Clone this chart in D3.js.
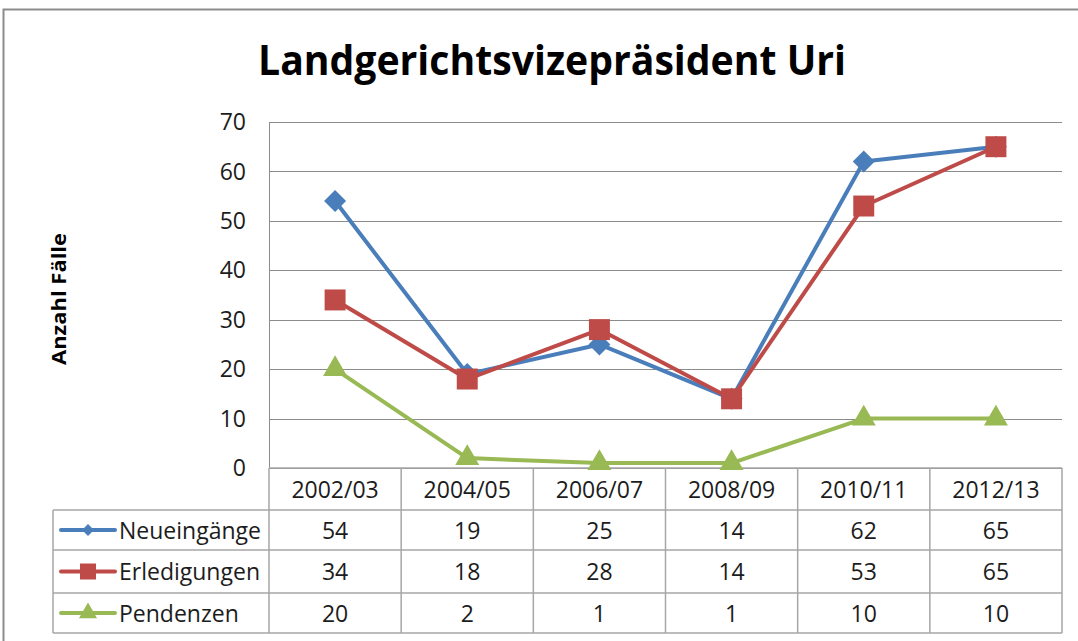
<!DOCTYPE html>
<html>
<head>
<meta charset="utf-8">
<script src="https://cdn.jsdelivr.net/npm/d3@7"></script>
<style>
  body { margin: 0; background: #fff; }
  text { font-family: "Open Sans", Lato, sans-serif; }
</style>
</head>
<body>
<div id="chart"></div>
<script>
const categories = ["2002/03", "2004/05", "2006/07", "2008/09", "2010/11", "2012/13"];
const neueingaenge = [54, 19, 25, 14, 62, 65];
const erledigungen = [34, 18, 28, 14, 53, 65];
const pendenzen = [20, 2, 1, 1, 10, 10];
const yTicks = [0, 10, 20, 30, 40, 50, 60, 70];

const series = [
    { name: "Neueingänge", values: neueingaenge, color: "#4A7EBB", symbol: d3.symbolDiamond2, size: 308, legendSize: 92 },
    { name: "Erledigungen", values: erledigungen, color: "#BE4B48", symbol: d3.symbolSquare2, size: 560, legendSize: 326 },
    { name: "Pendenzen", values: pendenzen, color: "#98B954", symbol: d3.symbolTriangle2, size: 412, legendSize: 232 }
];

const width = 1078, height = 641;
const plotLeft = 269, plotRight = 1062, plotTop = 122, plotBottom = 468;
const rowH = [42, 40, 43, 40];
const textColor = "#1c1c1c";

const svg = d3.select("#chart").append("svg")
    .attr("width", width)
    .attr("height", height);

// outer frame of the chart object
svg.append("path")
    .attr("d", `M3.5,${height} V9.5 H${width}`)
    .attr("fill", "none")
    .attr("stroke", "#8c8c8c")
    .attr("stroke-width", 2);

svg.append("text")
    .attr("x", 258)
    .attr("y", 75)
    .attr("font-size", 42)
    .attr("font-weight", "bold")
    .attr("textLength", 588)
    .attr("lengthAdjust", "spacingAndGlyphs")
    .text("Landgerichtsvizepräsident Uri");

var x = d3.scaleBand().domain(categories).range([plotLeft, plotRight]);
var y = d3.scaleLinear().domain([0, 70]).range([plotBottom, plotTop]);

// gridlines
svg.append("g")
    .selectAll("line")
    .data(yTicks)
    .enter()
    .append("line")
    .attr("x1", plotLeft)
    .attr("x2", plotRight)
    .attr("y1", d => Math.round(y(d)) + 0.5)
    .attr("y2", d => Math.round(y(d)) + 0.5)
    .attr("stroke", "#8c8c8c")
    .attr("stroke-width", 1);

var yAxis = svg.append("g")
    .attr("transform", `translate(${plotLeft},0)`)
    .call(d3.axisLeft(y).tickValues(yTicks).tickSize(0).tickPadding(23));
yAxis.select(".domain").attr("stroke", "#8c8c8c");
yAxis.selectAll("text")
    .attr("font-size", 23)
    .attr("fill", textColor)
    .attr("dy", "0.33em")
    .attr("font-family", "'Open Sans', sans-serif");

svg.append("text")
    .attr("transform", "translate(66,299) rotate(-90)")
    .attr("text-anchor", "middle")
    .attr("font-family", "'Liberation Sans', Arial, sans-serif")
    .attr("font-size", 20)
    .attr("font-weight", "bold")
    .attr("textLength", 132)
    .attr("lengthAdjust", "spacingAndGlyphs")
    .text("Anzahl Fälle");

// data table
var rowY = [plotBottom];
rowH.forEach((h, i) => rowY.push(rowY[i] + h));
var tableLeft = 53;

var grid = svg.append("g")
    .attr("stroke", "#a6a6a6")
    .attr("stroke-width", 1.5)
    .attr("fill", "none");

// horizontal lines
rowY.forEach((yy, i) => {
    grid.append("line")
        .attr("x1", i === 0 ? plotLeft : tableLeft)
        .attr("x2", plotRight)
        .attr("y1", yy)
        .attr("y2", yy);
});
// vertical lines
categories.forEach(c => {
    grid.append("line")
        .attr("x1", x(c)).attr("x2", x(c))
        .attr("y1", rowY[0]).attr("y2", rowY[4]);
});
grid.append("line").attr("x1", plotRight).attr("x2", plotRight).attr("y1", rowY[0]).attr("y2", rowY[4]);
grid.append("line").attr("x1", tableLeft).attr("x2", tableLeft).attr("y1", rowY[1]).attr("y2", rowY[4]);

svg.append("g")
    .selectAll("text")
    .data(categories)
    .enter()
    .append("text")
    .attr("x", d => x(d) + x.bandwidth() / 2)
    .attr("y", (rowY[0] + rowY[1]) / 2 + 9)
    .attr("text-anchor", "middle")
    .attr("font-size", 23)
    .attr("fill", textColor)
    .text(d => d);

series.forEach((s, i) => {
    var cy = (rowY[i + 1] + rowY[i + 2]) / 2;
    var row = svg.append("g");
    row.selectAll("text.val")
        .data(s.values)
        .enter()
        .append("text")
        .attr("x", (d, j) => x(categories[j]) + x.bandwidth() / 2)
        .attr("y", cy + 8.5)
        .attr("text-anchor", "middle")
        .attr("font-size", 23)
        .attr("fill", textColor)
        .text(d => d);

    row.append("line")
        .attr("x1", 61).attr("x2", 115)
        .attr("y1", cy).attr("y2", cy)
        .attr("stroke", s.color)
        .attr("stroke-width", 4)
        .attr("stroke-linecap", "round");
    row.append("path")
        .attr("d", d3.symbol().type(s.symbol).size(s.legendSize)())
        .attr("transform", `translate(88,${cy})`)
        .attr("fill", s.color);
    row.append("text")
        .attr("x", 119)
        .attr("y", cy + 8.5)
        .attr("font-size", 23)
        .attr("fill", textColor)
        .text(s.name);
});

// lines and markers
var line = d3.line()
    .x((d, i) => x(categories[i]) + x.bandwidth() / 2)
    .y(d => y(d));

series.forEach(s => {
    svg.append("path")
        .datum(s.values)
        .attr("d", line)
        .attr("fill", "none")
        .attr("stroke", s.color)
        .attr("stroke-width", 4)
        .attr("stroke-linejoin", "round");

    svg.append("g")
        .selectAll("path")
        .data(s.values)
        .enter()
        .append("path")
        .attr("d", d3.symbol().type(s.symbol).size(s.size))
        .attr("transform", (d, i) => `translate(${x(categories[i]) + x.bandwidth() / 2},${y(d)})`)
        .attr("fill", s.color);
});
</script>
</body>
</html>
